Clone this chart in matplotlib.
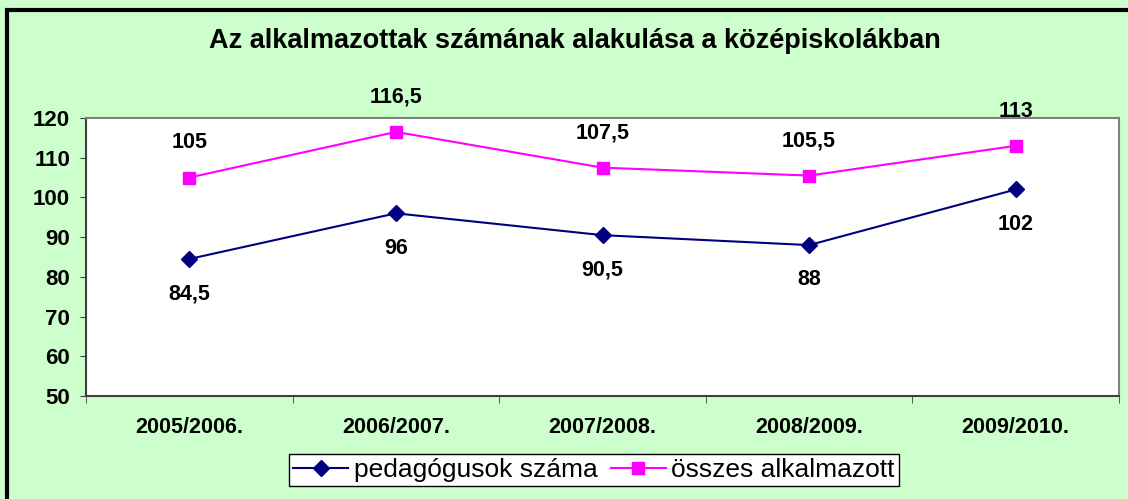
import matplotlib.pyplot as plt
from matplotlib.patches import Rectangle

plt.rcParams['font.family'] = ['Liberation Sans', 'DejaVu Sans']

# chart data
years = ['2005/2006.', '2006/2007.', '2007/2008.', '2008/2009.', '2009/2010.']
pedagogusok = [84.5, 96, 90.5, 88, 102]
osszes = [105, 116.5, 107.5, 105.5, 113]
label_ped = 'pedagógusok száma'
label_osz = 'összes alkalmazott'
title = 'Az alkalmazottak számának alakulása a középiskolákban'

bg = '#CCFFCC'
fig = plt.figure(figsize=(11.28, 4.99), dpi=100, facecolor=bg)

# black frame around the chart area (cut off at right and bottom)
fig.patches.append(Rectangle((7 / 1128, -0.1), 1.2, 1 - 10 / 499 + 0.1,
                             transform=fig.transFigure, fill=False,
                             edgecolor='black', linewidth=3))

ax = fig.add_axes([86 / 1128, 1 - 396 / 499, (1119 - 86) / 1128, (396 - 118) / 499])
ax.set_facecolor('white')

x = list(range(len(years)))
ax.plot(x, pedagogusok, color='#000080', linewidth=1.5, marker='D',
        markersize=8, label=label_ped)
ax.plot(x, osszes, color='#FF00FF', linewidth=1.5, marker='s',
        markersize=8, label=label_osz)

def fmt(v):
    return ('%g' % v).replace('.', ',')

for xi, v in zip(x, osszes):
    ax.annotate(fmt(v), (xi, v), xytext=(0, 25), textcoords='offset points',
                ha='center', va='center', fontsize=15.5, fontweight='bold')
for xi, v in zip(x, pedagogusok):
    ax.annotate(fmt(v), (xi, v), xytext=(0, -25), textcoords='offset points',
                ha='center', va='center', fontsize=15.5, fontweight='bold')

ax.set_xlim(-0.5, len(years) - 0.5)
ax.set_ylim(50, 120)
ax.set_yticks(range(50, 121, 10))
ax.set_xticks(x)
ax.set_xticklabels(years, fontsize=15.5, fontweight='bold')
ax.set_xticks([i - 0.5 for i in range(len(years) + 1)], minor=True)
ax.tick_params(axis='x', which='major', length=0, pad=15)
ax.tick_params(axis='x', which='minor', length=5, color='#404040', direction='out')
ax.tick_params(axis='y', length=4.5, color='#404040', labelsize=16, pad=7)
for lab in ax.get_yticklabels():
    lab.set_fontweight('bold')

for side in ['top', 'right']:
    ax.spines[side].set_color('#808080')
    ax.spines[side].set_linewidth(1.5)
for side in ['left', 'bottom']:
    ax.spines[side].set_color('#404040')
    ax.spines[side].set_linewidth(1.5)

fig.text(575 / 1128, 1 - 41 / 499, title, ha='center', va='center',
         fontsize=19.5, fontweight='bold')

leg = fig.legend(loc='center', bbox_to_anchor=(594 / 1128, 1 - 470 / 499),
                 ncol=2, fontsize=19, frameon=True, fancybox=False,
                 handlelength=2.1, handletextpad=0.2, columnspacing=0.5,
                 borderpad=0.15, framealpha=1)
leg.get_frame().set_edgecolor('black')
leg.get_frame().set_linewidth(1)

fig.savefig('out.png', dpi=100, facecolor=bg)
